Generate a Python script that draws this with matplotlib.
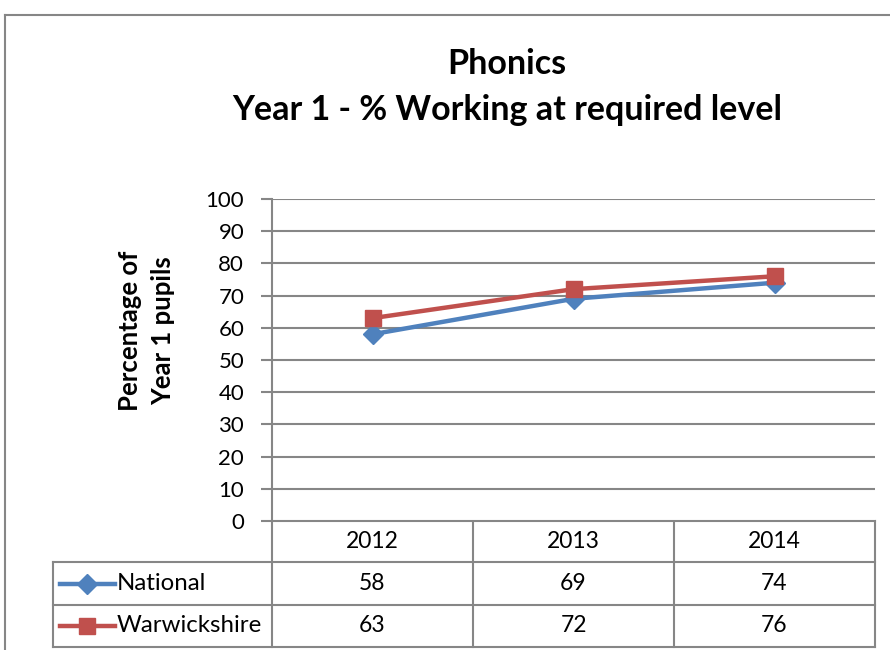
""" Phonics Year 1 line chart with data table underneath """

import matplotlib
matplotlib.use("Agg")
import matplotlib.pyplot as plt
from matplotlib.lines import Line2D

plt.rcParams['font.family'] = ['Lato', 'DejaVu Sans']

# Data
years = ["2012", "2013", "2014"]
national = [58, 69, 74]
warwickshire = [63, 72, 76]
series_names = ["National", "Warwickshire"]
y_ticks = [0, 10, 20, 30, 40, 50, 60, 70, 80, 90, 100]

BLUE = "#4F81BD"
RED = "#C0504D"
GRID = "#868686"

W, H = 890, 650
fig = plt.figure(figsize=(W / 100, H / 100), dpi=100)

# Plot area (pixel box 272..875 x 199..521)
left, right, top, bottom = 272, 875, 199, 521
ax = fig.add_axes([left / W, 1 - bottom / H, (right - left) / W, (bottom - top) / H])

xs = range(len(years))
ax.plot(xs, national, color=BLUE, lw=3.2, marker="D", markersize=10,
        markeredgecolor=BLUE, label=series_names[0], zorder=3)
ax.plot(xs, warwickshire, color=RED, lw=3.2, marker="s", markersize=12,
        markeredgecolor=RED, label=series_names[1], zorder=4)

ax.set_xlim(-0.5, len(years) - 0.5)
ax.set_ylim(0, 100)
ax.set_yticks(y_ticks)
ax.set_yticklabels([str(t) for t in y_ticks], fontsize=16)
ax.set_xticks([])
ax.yaxis.grid(True, color=GRID, lw=1.5)
ax.set_axisbelow(True)
ax.tick_params(axis="y", length=8, width=1.5, color=GRID, pad=12)
for side in ["top", "right", "bottom"]:
    ax.spines[side].set_visible(False)
ax.spines["left"].set_color(GRID)
ax.spines["left"].set_linewidth(1.5)

# Overlay in pixel coordinates for title, axis label, table and frame
ov = fig.add_axes([0, 0, 1, 1], zorder=-1)
ov.set_xlim(0, W)
ov.set_ylim(H, 0)
ov.axis("off")

ov.text(147, 331, "Percentage of\nYear 1 pupils", ha="center", va="center", rotation=90,
        fontsize=18.5, fontweight="bold", linespacing=1.45, multialignment="center")

# Outer chart frame (cut off at right and bottom)
ov.plot([5, 5], [15, H + 5], color=GRID, lw=1.5)
ov.plot([5, W + 5], [15, 15], color=GRID, lw=1.5)

ov.text(507, 64, "Phonics", ha="center", va="center", fontsize=24.5, fontweight="bold")
ov.text(507, 110, "Year 1 - % Working at required level", ha="center", va="center",
        fontsize=24.5, fontweight="bold")

# Data table
col_edges = [left + i * (right - left) / len(years) for i in range(len(years) + 1)]
row_edges = [521, 562, 605, 647]
tbl_left = 53

# horizontal lines
ov.plot([left, right], [row_edges[0], row_edges[0]], color=GRID, lw=1.5)
for y in row_edges[1:]:
    ov.plot([tbl_left, right], [y, y], color=GRID, lw=1.5)
# vertical lines
for x in col_edges:
    ov.plot([x, x], [row_edges[0], row_edges[-1]], color=GRID, lw=1.5)
ov.plot([tbl_left, tbl_left], [row_edges[1], row_edges[-1]], color=GRID, lw=1.5)

for i, yr in enumerate(years):
    cx = (col_edges[i] + col_edges[i + 1]) / 2
    ov.text(cx, (row_edges[0] + row_edges[1]) / 2, yr, ha="center", va="center", fontsize=16.5)

rows = [(series_names[0], national, BLUE, "D", 10), (series_names[1], warwickshire, RED, "s", 12)]
for r, (name, vals, col, mk, ms) in enumerate(rows):
    cy = (row_edges[r + 1] + row_edges[r + 2]) / 2
    ov.add_line(Line2D([60, 115], [cy, cy], color=col, lw=3.2, marker=None))
    ov.plot([87], [cy], marker=mk, color=col, markersize=ms)
    ov.text(117, cy, name, ha="left", va="center", fontsize=17.3)
    for i, v in enumerate(vals):
        cx = (col_edges[i] + col_edges[i + 1]) / 2
        ov.text(cx, cy, str(v), ha="center", va="center", fontsize=16.5)

fig.savefig("out.png", dpi=100)
